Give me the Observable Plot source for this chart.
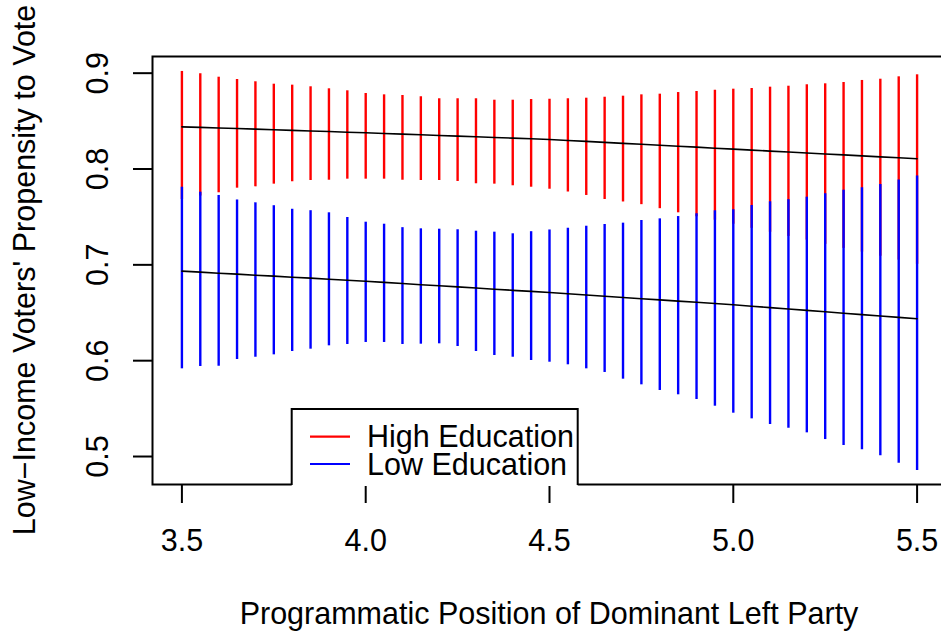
<!DOCTYPE html>
<html><head><meta charset="utf-8">
<script src="https://cdn.jsdelivr.net/npm/d3@7"></script>
<script src="https://cdn.jsdelivr.net/npm/@observablehq/plot@0.6"></script>
<style>html,body{margin:0;padding:0;background:#fff;overflow:hidden;}</style>
</head><body><div id="chart"></div>
<script>
// x positions (programmatic position of dominant left party)
const xPos = [3.5,3.55,3.6,3.65,3.7,3.75,3.8,3.85,3.9,3.95,4.0,4.05,4.1,4.15,4.2,4.25,4.3,4.35,4.4,4.45,4.5,4.55,4.6,4.65,4.7,4.75,4.8,4.85,4.9,4.95,5.0,5.05,5.1,5.15,5.2,5.25,5.3,5.35,5.4,5.45,5.5];

// High education: upper / lower bounds and mean
const highUpper = [0.9018,0.8994,0.8958,0.8934,0.8910,0.8885,0.8875,0.8858,0.8837,0.8816,0.8788,0.8774,0.8767,0.8754,0.8733,0.8733,0.8733,0.8718,0.8718,0.8725,0.8728,0.8733,0.8739,0.8749,0.8760,0.8774,0.8781,0.8798,0.8809,0.8822,0.8833,0.8840,0.8854,0.8864,0.8879,0.8889,0.8903,0.8924,0.8937,0.8962,0.8983];
const highLower = [0.7682,0.7718,0.7752,0.7800,0.7814,0.7842,0.7867,0.7880,0.7883,0.7894,0.7894,0.7894,0.7883,0.7880,0.7880,0.7870,0.7846,0.7842,0.7825,0.7810,0.7789,0.7760,0.7724,0.7682,0.7656,0.7628,0.7586,0.7543,0.7502,0.7466,0.7424,0.7381,0.7340,0.7297,0.7258,0.7214,0.7172,0.7133,0.7090,0.7049,0.7006];
const highMean = [0.8440,0.8434,0.8428,0.8422,0.8416,0.8410,0.8403,0.8397,0.8391,0.8384,0.8378,0.8371,0.8364,0.8357,0.8350,0.8343,0.8336,0.8329,0.8322,0.8315,0.8308,0.8298,0.8288,0.8278,0.8268,0.8258,0.8248,0.8238,0.8228,0.8217,0.8207,0.8197,0.8187,0.8177,0.8167,0.8157,0.8147,0.8137,0.8127,0.8117,0.8107];

// Low education: upper / lower bounds and mean
const lowUpper = [0.7810,0.7758,0.7724,0.7677,0.7647,0.7617,0.7580,0.7565,0.7543,0.7494,0.7445,0.7424,0.7388,0.7376,0.7372,0.7366,0.7351,0.7341,0.7324,0.7346,0.7364,0.7382,0.7403,0.7421,0.7435,0.7463,0.7480,0.7504,0.7533,0.7564,0.7575,0.7619,0.7658,0.7680,0.7706,0.7742,0.7779,0.7804,0.7838,0.7885,0.7927];
const lowLower = [0.5915,0.5939,0.5942,0.6012,0.6036,0.6061,0.6096,0.6120,0.6155,0.6169,0.6190,0.6190,0.6169,0.6172,0.6176,0.6148,0.6096,0.6054,0.6036,0.6002,0.5984,0.5957,0.5915,0.5877,0.5807,0.5748,0.5689,0.5644,0.5595,0.5525,0.5452,0.5393,0.5334,0.5295,0.5247,0.5177,0.5115,0.5070,0.5007,0.4930,0.4854];
const lowMean = [0.6934,0.6924,0.6913,0.6903,0.6892,0.6882,0.6871,0.6861,0.6850,0.6840,0.6829,0.6817,0.6805,0.6793,0.6782,0.6770,0.6758,0.6746,0.6734,0.6723,0.6711,0.6698,0.6685,0.6673,0.6660,0.6647,0.6634,0.6621,0.6609,0.6596,0.6583,0.6568,0.6554,0.6539,0.6525,0.6510,0.6495,0.6481,0.6466,0.6452,0.6437];

const seriesNames = ["High Education", "Low Education"];
const seriesColors = ["#ff0000", "#0000ff"];

const xTicks = [3.5, 4.0, 4.5, 5.0, 5.5];
const yTicks = [0.5, 0.6, 0.7, 0.8, 0.9];

const xTitle = "Programmatic Position of Dominant Left Party";
const yTitle = "Low\u2212Income Voters' Propensity to Vote";

const rows = xPos.map((x, i) => ({
  x, hiUp: highUpper[i], hiLo: highLower[i], hiMean: highMean[i],
  loUp: lowUpper[i], loLo: lowLower[i], loMean: lowMean[i]
}));

const FONT = "'Liberation Sans', Arial, Helvetica, sans-serif";
const FS = "30.5px";

const chart = Plot.plot({
  width: 947, height: 634,
  marginLeft: 152, marginRight: 1, marginTop: 56, marginBottom: 150,
  style: {fontFamily: FONT, fontSize: FS, maxWidth: "none", background: "white", color: "black"},
  x: {domain: [3.42, 5.58]},
  y: {domain: [0.4708, 0.9174]},
  marks: [
    Plot.ruleX(rows, {x: "x", y1: "hiLo", y2: "hiUp", stroke: seriesColors[0], strokeWidth: 2.4}),
    Plot.ruleX(rows, {x: "x", y1: "loLo", y2: "loUp", stroke: seriesColors[1], strokeWidth: 2.4}),
    Plot.line(rows, {x: "x", y: "hiMean", stroke: "black", strokeWidth: 1.6}),
    Plot.line(rows, {x: "x", y: "loMean", stroke: "black", strokeWidth: 1.6}),
    Plot.frame({stroke: "black", strokeWidth: 2}),
    Plot.axisX({ticks: xTicks, tickFormat: d => d.toFixed(1), tickSize: 19, tickPadding: 26, strokeWidth: 2, label: null}),
    Plot.axisY({ticks: yTicks, tickFormat: d => d.toFixed(1), tickSize: 19, tickPadding: 26, tickRotate: -90, strokeWidth: 2, label: null})
  ]
});

document.getElementById("chart").appendChild(chart);

const svg = d3.select(chart);
// axis titles
svg.append("text")
  .attr("x", 549).attr("y", 624)
  .attr("text-anchor", "middle")
  .style("font-family", FONT).style("font-size", FS).attr("fill", "black")
  .text(xTitle);
svg.append("text")
  .attr("transform", "translate(34.7,270) rotate(-90)")
  .attr("text-anchor", "middle")
  .style("font-family", FONT).style("font-size", FS).attr("fill", "black")
  .text(yTitle);

// legend box (covers the bottom frame line, as in the original)
const lg = svg.append("g").attr("text-anchor", "start");
lg.append("rect").attr("x", 291.7).attr("y", 409).attr("width", 286).attr("height", 77)
  .attr("fill", "white");
lg.append("path").attr("d", "M291.7,485 V409 H577.7 V485")
  .attr("fill", "none").attr("stroke", "black").attr("stroke-width", 2);
seriesNames.forEach((name, i) => {
  const yLine = [436.7, 464][i];
  const yText = [446.7, 475][i];
  lg.append("line").attr("x1", 310).attr("x2", 350).attr("y1", yLine).attr("y2", yLine)
    .attr("stroke", seriesColors[i]).attr("stroke-width", 2.2);
  lg.append("text").attr("x", 367).attr("y", yText)
    .attr("text-anchor", "start")
    .style("text-anchor", "start")
    .style("font-family", FONT).style("font-size", FS).attr("fill", "black")
    .text(name);
});
</script>
</body></html>
